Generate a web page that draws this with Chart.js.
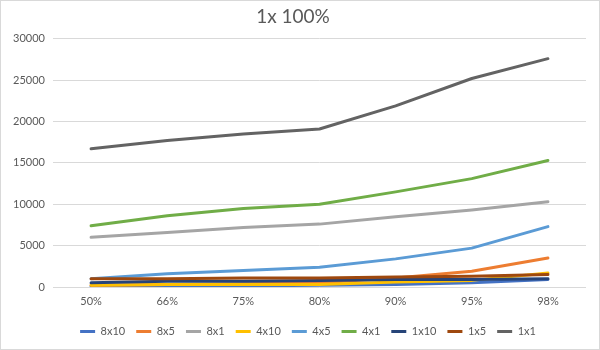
<!DOCTYPE html>
<html>
<head>
<meta charset="utf-8">
<script src="https://cdn.jsdelivr.net/npm/chart.js@4/dist/chart.umd.min.js"></script>
<style>
html,body{margin:0;padding:0;background:#fff;}
#wrap{width:600px;height:350px;position:relative;}
</style>
</head>
<body>
<div id="wrap"><canvas id="c" width="600" height="350"></canvas></div>
<script>
const categories = ['50%','66%','75%','80%','90%','95%','98%'];
const seriesNames = ['8x10','8x5','8x1','4x10','4x5','4x1','1x10','1x5','1x1'];
const s8x10 = [100,150,150,200,300,500,900];
const s8x5  = [200,300,400,500,1100,1900,3500];
const s8x1  = [6000,6600,7200,7600,8500,9300,10300];
const s4x10 = [200,300,300,300,600,800,1700];
const s4x5  = [1000,1600,2000,2400,3400,4700,7300];
const s4x1  = [7400,8600,9500,10000,11500,13100,15300];
const s1x10 = [500,700,700,800,900,900,1000];
const s1x5  = [1000,1000,1100,1100,1200,1300,1500];
const s1x1  = [16700,17700,18500,19100,21900,25200,27600];
const yTicks = [0,5000,10000,15000,20000,25000,30000];

const seriesValues = [s8x10,s8x5,s8x1,s4x10,s4x5,s4x1,s1x10,s1x5,s1x1];
const colors = ['#4472C4','#ED7D31','#A5A5A5','#FFC000','#5B9BD5','#70AD47','#264478','#9E480E','#636363'];

const FONT = 'Lato, "Liberation Sans", sans-serif';
const datasets = seriesNames.map((n,i)=>({
  label:n, data:seriesValues[i], borderColor:colors[i], backgroundColor:colors[i],
  borderWidth:3, pointRadius:0, tension:0, fill:false, order:-i,
  borderCapStyle:'round', borderJoinStyle:'round'
}));

const frame = {
  id:'frame',
  beforeDraw(chart){
    const c=chart.ctx; c.save(); c.fillStyle='#fff'; c.fillRect(0,0,chart.width,chart.height); c.restore();
  },
  afterLayout(chart){
    if(chart.legend){chart.legend.left+=15; chart.legend.right+=15;}
  },
  afterDraw(chart){
    const c=chart.ctx; c.save(); c.strokeStyle='#d9d9d9'; c.lineWidth=1;
    c.strokeRect(0.5,0.5,chart.width-1,chart.height-1); c.restore();
  }
};

new Chart(document.getElementById('c'),{
  type:'line',
  data:{labels:categories, datasets},
  plugins:[frame],
  options:{
    responsive:false, animation:false,
    layout:{padding:{left:0,right:14,top:0,bottom:3}},
    plugins:{
      tooltip:{enabled:false},
      title:{display:true,text:'1x 100%',color:'#595959',font:{family:FONT,size:19,weight:'normal'},padding:{top:5,bottom:11}},
      legend:{position:'bottom',
        labels:{color:'#595959',font:{family:FONT,size:11},boxWidth:15,boxHeight:3,padding:11,
          sort:(a,b)=>a.datasetIndex-b.datasetIndex,
          generateLabels(chart){
            return Chart.defaults.plugins.legend.labels.generateLabels(chart).map(l=>{l.lineWidth=0; l.fillStyle=l.strokeStyle; return l;});
          }}}
    },
    scales:{
      x:{offset:true,grid:{display:false,drawTicks:false},border:{display:false},
        ticks:{color:'#595959',font:{family:FONT,size:11},padding:8,maxRotation:0},
        afterFit(s){s.height=28;}},
      y:{min:0,max:30000,
        afterBuildTicks(s){s.ticks=yTicks.map(v=>({value:v}));},
        grid:{color:'#d9d9d9',drawTicks:false,lineWidth:1},border:{display:false},
        ticks:{color:'#595959',font:{family:FONT,size:11},padding:8,callback:v=>String(v)},
        afterFit(s){s.width=53;}}
    }
  }
});
</script>
</body>
</html>
